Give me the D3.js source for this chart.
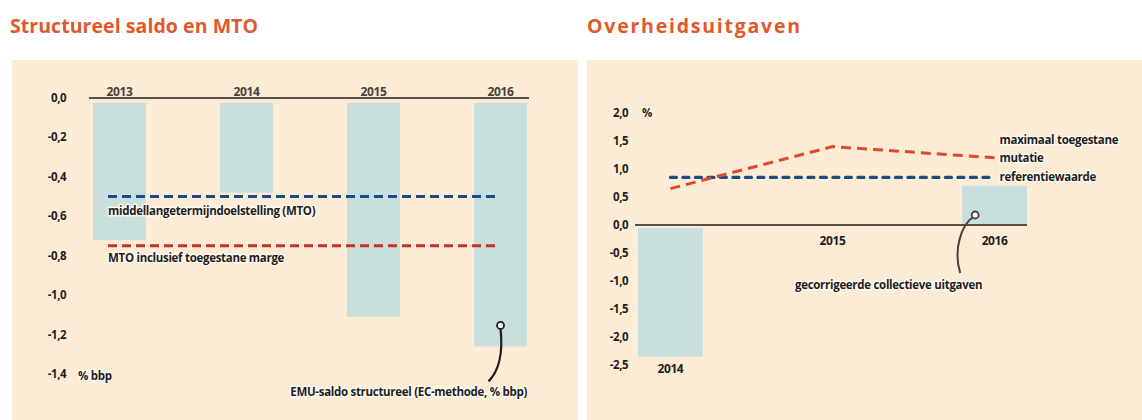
<!DOCTYPE html>
<html>
<head>
<meta charset="utf-8">
<style>
body { margin: 0; background: #fff; font-family: 'Open Sans', sans-serif; }
text { font-family: 'Open Sans', sans-serif; }
</style>
</head>
<body>
<script src="https://cdn.jsdelivr.net/npm/d3@7"></script>
<script>
// left chart: structureel saldo en MTO
const yearsL = ["2013", "2014", "2015", "2016"];
const saldoStructureel = [-0.72, -0.48, -1.11, -1.26];
const mto = -0.5;
const mtoMarge = -0.75;
const ticksL = [0, -0.2, -0.4, -0.6, -0.8, -1.0, -1.2, -1.4];

// right chart: overheidsuitgaven
const yearsR = ["2014", "2015", "2016"];
const uitgaven = [-2.35, 0, 0.7];
const maxMutatie = [0.65, 1.4, 1.2];
const referentie = [0.85, 0.85, 0.85];
const ticksR = [2.0, 1.5, 1.0, 0.5, 0, -0.5, -1.0, -1.5, -2.0, -2.5];

const W = 1142, H = 420;
const bg = "#fcecd5", barColor = "#c8dfdd", ink = "#231e1c", axisColor = "#5b4e49";
const orange = "#e1592a", blue = "#1d4b84", red = "#c9302a", red2 = "#dc4b2c";

const fmt = v => d3.format(".1f")(v).replace(".", ",").replace("\u2212", "-");

const svg = d3.select("body").append("svg")
    .attr("width", W).attr("height", H);

// panels
svg.append("rect").attr("x", 12).attr("y", 60).attr("width", 566).attr("height", 360).attr("fill", bg);
svg.append("rect").attr("x", 587).attr("y", 60).attr("width", 555).attr("height", 360).attr("fill", bg);

// titles
svg.append("text").attr("x", 10).attr("y", 33).text("Structureel saldo en MTO")
    .attr("fill", orange).attr("font-size", "19.5px").attr("font-weight", 700)
    .attr("textLength", 248).attr("lengthAdjust", "spacing");
svg.append("text").attr("x", 587).attr("y", 33).text("Overheidsuitgaven")
    .attr("fill", orange).attr("font-size", "19.5px").attr("font-weight", 700)
    .attr("textLength", 213).attr("lengthAdjust", "spacing");

function label(g, x, y, txt, anchor) {
  return g.append("text")
      .attr("x", x).attr("y", y)
      .attr("text-anchor", anchor || "start")
      .attr("font-size", "11.5px").attr("font-weight", 700)
      .attr("letter-spacing", "-0.3px")
      .attr("fill", ink)
      .attr("stroke", "#fff9f0").attr("stroke-width", 3).attr("stroke-linejoin", "round")
      .attr("paint-order", "stroke")
      .text(txt);
}

// ========== LEFT ==========
const gL = svg.append("g");
const xL = d3.scaleBand().domain(yearsL).range([93, 527]).paddingInner(0.583).paddingOuter(0);
const yL = d3.scaleLinear().domain([-1.4, 0]).range([374, 98]);

gL.selectAll(".bar").data(saldoStructureel).enter().append("rect")
    .attr("x", (d, i) => xL(yearsL[i]))
    .attr("width", xL.bandwidth())
    .attr("y", yL(0) + 5)
    .attr("height", d => yL(d) - yL(0) - 5)
    .attr("fill", barColor);

gL.append("line")
    .attr("x1", 89).attr("x2", 529)
    .attr("y1", yL(0)).attr("y2", yL(0))
    .attr("stroke", axisColor).attr("stroke-width", 2);

gL.selectAll(".yr").data(yearsL).enter().append("text")
    .attr("x", d => xL(d) + xL.bandwidth() / 2)
    .attr("y", yL(0) - 2)
    .attr("text-anchor", "middle")
    .attr("font-size", "12px").attr("font-weight", 700)
    .attr("letter-spacing", "-0.4px")
    .attr("fill", "#4a403c")
    .text(d => d);

gL.selectAll(".tick").data(ticksL).enter().append("text")
    .attr("x", 66).attr("y", d => yL(d) + 4)
    .attr("text-anchor", "end")
    .attr("font-size", "11.5px").attr("font-weight", 700)
    .attr("letter-spacing", "-0.5px")
    .attr("fill", ink)
    .text(fmt);

label(gL, 78, yL(-1.4) + 6, "% bbp");

const mx1 = xL("2013") + 15, mx2 = xL("2016") + xL.bandwidth() / 2 - 5;
gL.append("line").attr("x1", mx1).attr("x2", mx2)
    .attr("y1", yL(mto)).attr("y2", yL(mto))
    .attr("stroke", blue).attr("stroke-width", 3).attr("stroke-dasharray", "9,5");
gL.append("line").attr("x1", mx1).attr("x2", mx2)
    .attr("y1", yL(mtoMarge)).attr("y2", yL(mtoMarge))
    .attr("stroke", red).attr("stroke-width", 3).attr("stroke-dasharray", "9,5");

label(gL, mx1, yL(mto) + 18, "middellangetermijndoelstelling (MTO)");
label(gL, mx1, yL(mtoMarge) + 16, "MTO inclusief toegestane marge");

// annotation EMU-saldo
const cxL = xL("2016") + xL.bandwidth() / 2, cyL = yL(saldoStructureel[3]) - 21;
gL.append("path")
    .attr("d", `M${cxL},${cyL + 3} Q${cxL + 4},${cyL + 40} ${cxL - 12},${cyL + 56}`)
    .attr("fill", "none").attr("stroke", ink).attr("stroke-width", 2.2);
gL.append("circle").attr("cx", cxL).attr("cy", cyL).attr("r", 3.5)
    .attr("fill", "#fff").attr("stroke", ink).attr("stroke-width", 1.8);
label(gL, 527, cyL + 71, "EMU-saldo structureel (EC-methode, % bbp)", "end");

// ========== RIGHT ==========
const gR = svg.append("g");
const xR = d3.scaleBand().domain(yearsR).range([638, 1027]).paddingInner(0.6).paddingOuter(0);
const yR = d3.scaleLinear().domain([-2.5, 2.0]).range([365, 113]);
const cx = d => xR(d) + xR.bandwidth() / 2;

gR.selectAll(".bar").data(uitgaven).enter().append("rect")
    .attr("x", (d, i) => xR(yearsR[i]))
    .attr("width", xR.bandwidth())
    .attr("y", d => d >= 0 ? yR(d) : yR(0) + 3)
    .attr("height", d => d >= 0 ? yR(0) - yR(d) : yR(d) - yR(0) - 3)
    .attr("fill", barColor);

gR.append("line")
    .attr("x1", 635).attr("x2", 1027)
    .attr("y1", yR(0)).attr("y2", yR(0))
    .attr("stroke", axisColor).attr("stroke-width", 2);

gR.selectAll(".tick").data(ticksR).enter().append("text")
    .attr("x", 628).attr("y", d => yR(d) + 4)
    .attr("text-anchor", "end")
    .attr("font-size", "11.5px").attr("font-weight", 700)
    .attr("letter-spacing", "-0.5px")
    .attr("fill", ink)
    .text(fmt);

label(gR, 642, yR(2.0) + 4, "%");

gR.selectAll(".yr").data(yearsR).enter().append("text")
    .attr("x", d => cx(d))
    .attr("y", (d, i) => uitgaven[i] < 0 ? yR(uitgaven[i]) + 16 : yR(0) + 20)
    .attr("text-anchor", "middle")
    .attr("font-size", "12px").attr("font-weight", 700)
    .attr("letter-spacing", "-0.4px")
    .attr("fill", ink)
    .text(d => d);

const line = vals => d3.line()
    .x((d, i) => cx(yearsR[i]))
    .y(d => yR(d))(vals);

gR.append("path").attr("d", line(referentie))
    .attr("fill", "none").attr("stroke", blue).attr("stroke-width", 3.2)
    .attr("stroke-linecap", "round").attr("stroke-dasharray", "6,6.5");
gR.append("path").attr("d", line(maxMutatie))
    .attr("fill", "none").attr("stroke", red2).attr("stroke-width", 3)
    .attr("stroke-dasharray", "10,6");

const lx = cx("2016") + 5;
label(gR, lx, yR(maxMutatie[2]) - 14, "maximaal toegestane");
label(gR, lx, yR(maxMutatie[2]) + 4, "mutatie");
label(gR, lx, yR(referentie[2]) + 4, "referentiewaarde");

// annotation gecorrigeerde collectieve uitgaven
const cxR = xR("2016") + 13, cyR = yR(0) - 10;
gR.append("path")
    .attr("d", `M${cxR - 2},${cyR + 2} C${cxR - 14},${cyR + 10} ${cxR - 22},${cyR + 35} ${cxR - 15},${cyR + 58}`)
    .attr("fill", "none").attr("stroke", "#4a403c").attr("stroke-width", 2);
gR.append("circle").attr("cx", cxR).attr("cy", cyR).attr("r", 3.5)
    .attr("fill", "#fff").attr("stroke", "#4a403c").attr("stroke-width", 1.8);
label(gR, 795, cyR + 74, "gecorrigeerde collectieve uitgaven");
</script>
</body>
</html>
